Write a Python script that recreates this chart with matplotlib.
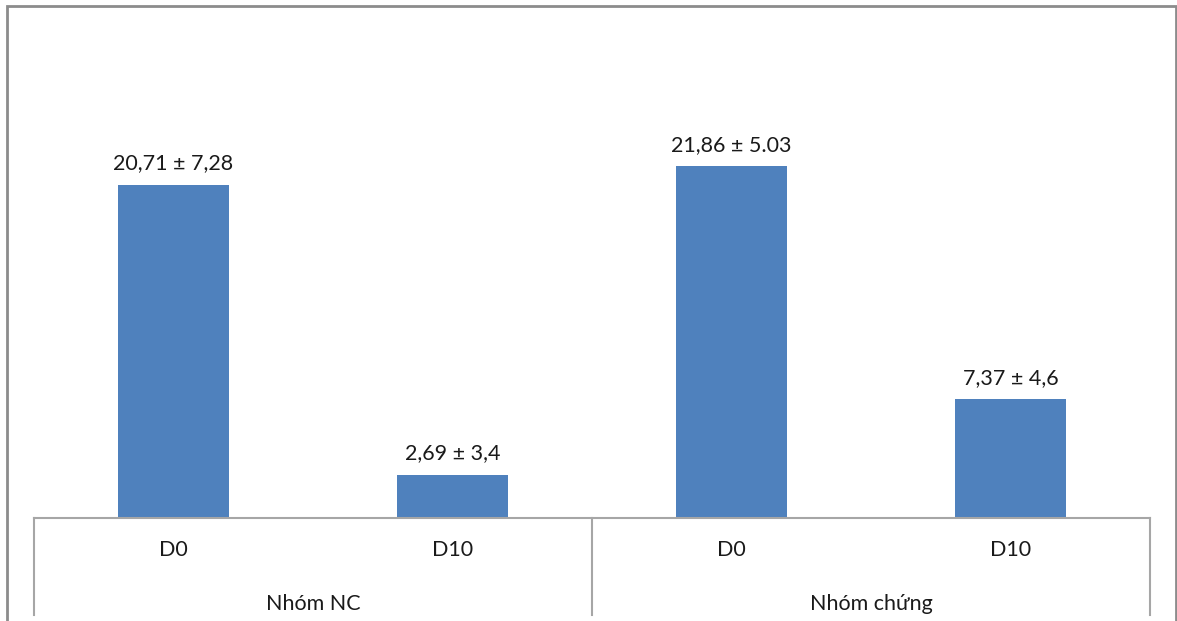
import matplotlib.pyplot as plt
import matplotlib.transforms as mtransforms
from matplotlib.patches import Rectangle

# values (mean) for each day within each group
days        = ['D0', 'D10', 'D0', 'D10']
groups      = ['Nhóm NC', 'Nhóm chứng']
means       = [20.71, 2.69, 21.86, 7.37]
val_labels  = ['20,71 ± 7,28', '2,69 ± 3,4', '21,86 ± 5.03', '7,37 ± 4,6']

bar_color   = '#4f81bd'
line_color  = '#a6a6a6'
text_color  = '#1a1a1a'
fsize       = 15.5

plt.rcParams['font.family'] = ['Lato', 'DejaVu Sans']

W, H = 1177, 621
fig = plt.figure(figsize=(W / 100, H / 100), dpi=100)

# chart frame
fig.patches.append(Rectangle((7 / W, -0.01), (1176 - 7) / W, (H - 6) / H + 0.01,
                             transform=fig.transFigure, fill=False,
                             edgecolor='#8c8c8c', linewidth=2))

ax = fig.add_axes([34 / W, (H - 518) / H, (1150 - 34) / W, (518 - 35) / H])
x = list(range(len(means)))
ax.bar(x, means, width=0.4, color=bar_color, zorder=2)
ax.set_xlim(-0.5, len(means) - 0.5)
ax.set_ylim(0, 30)

for xi, m, lab in zip(x, means, val_labels):
    ax.annotate(lab, (xi, m), xytext=(0, 8), textcoords='offset points',
                ha='center', va='bottom', fontsize=fsize, color=text_color)

for s in ['top', 'right', 'left']:
    ax.spines[s].set_visible(False)
ax.spines['bottom'].set_color(line_color)
ax.spines['bottom'].set_linewidth(1.5)
ax.set_xticks([])
ax.set_yticks([])

# two-level category axis
trans = mtransforms.blended_transform_factory(ax.transData, ax.transAxes)
for xs in [-0.5, 1.5, 3.5]:
    ax.plot([xs, xs], [0, -0.2], color=line_color, lw=1.5,
            transform=trans, clip_on=False)
for xi, d in zip(x, days):
    ax.text(xi, -0.066, d, transform=trans, ha='center', va='center',
            fontsize=fsize, color=text_color)
for gi, g in enumerate(groups):
    ax.text(2 * gi + 0.5, -0.178, g, transform=trans, ha='center',
            va='center', fontsize=fsize, color=text_color)

fig.savefig('out.png', dpi=100)
